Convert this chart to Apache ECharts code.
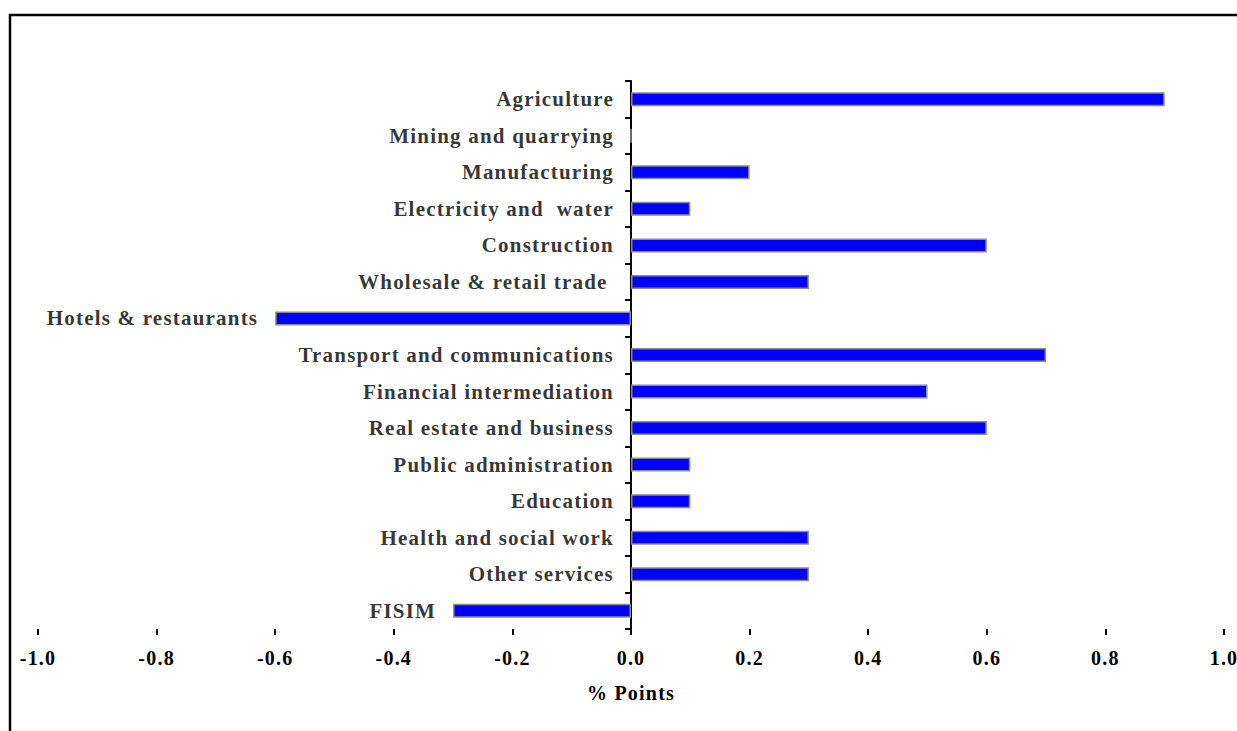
<!DOCTYPE html>
<html>
<head>
<meta charset="utf-8">
<script src="https://cdn.jsdelivr.net/npm/echarts@6/dist/echarts.min.js"></script>
<style>
  html, body { margin: 0; padding: 0; background: #fff; }
  #main { width: 1237px; height: 731px; letter-spacing: 1.2px; }
</style>
</head>
<body>
<div id="main"></div>
<script>
// sectors, top to bottom
const categories = [
  'Agriculture',
  'Mining and quarrying',
  'Manufacturing',
  'Electricity and  water',
  'Construction',
  'Wholesale & retail trade ',
  'Hotels & restaurants',
  'Transport and communications',
  'Financial intermediation',
  'Real estate and business',
  'Public administration',
  'Education',
  'Health and social work',
  'Other services',
  'FISIM'
];
// contribution, % points
const values = [0.9, 0, 0.2, 0.1, 0.6, 0.3, -0.6, 0.7, 0.5, 0.6, 0.1, 0.1, 0.3, 0.3, -0.3];

const font = 'Liberation Serif, Times New Roman, serif';

let myChart = echarts.init(document.getElementById('main'), null, { renderer: 'svg' });

// labels sit just left of the bar (or of the axis for positive bars)
const labelPoints = values.map((v, i) => [Math.min(v, 0), categories[i]]);

let option = {
  animation: false,
  backgroundColor: '#fff',
  grid: {
    left: 38,
    right: 13,
    top: 81,
    bottom: 102,
    containLabel: false,
    outerBoundsMode: 'none'
  },
  xAxis: {
    type: 'value',
    min: -1,
    max: 1,
    interval: 0.2,
    splitLine: { show: false },
    axisLine: { lineStyle: { color: '#000', width: 2 } },
    axisTick: { show: true, length: 6, lineStyle: { color: '#000', width: 2 } },
    axisLabel: {
      color: '#000',
      fontFamily: font,
      fontWeight: 'bold',
      fontSize: 20,
      margin: 19,
      formatter: v => (Math.abs(v) < 1e-9 ? '0.0' : v.toFixed(1))
    },
    name: '% Points',
    nameLocation: 'middle',
    nameGap: 54,
    nameMoveOverlap: false,
    nameTextStyle: { color: '#000', fontFamily: font, fontWeight: 'bold', fontSize: 20 }
  },
  yAxis: {
    type: 'category',
    inverse: true,
    data: categories,
    axisLine: { onZero: true, lineStyle: { color: '#000', width: 2 } },
    axisTick: { show: true, length: 6, lineStyle: { color: '#000', width: 2 } },
    axisLabel: { show: false },
    splitLine: { show: false }
  },
  series: [
    {
      type: 'bar',
      data: values,
      barWidth: 14,
      itemStyle: { color: '#0000FF', borderColor: '#8c8c8c', borderWidth: 1.5 },
      silent: true
    },
    {
      type: 'scatter',
      data: labelPoints,
      symbolSize: 0,
      silent: true,
      label: {
        show: true,
        position: 'left',
        distance: 17,
        color: '#000',
        fontFamily: font,
        fontWeight: 'bold',
        fontSize: 21,
        formatter: p => categories[p.dataIndex]
      }
    }
  ],
  graphic: [
    {
      type: 'rect',
      shape: { x: 10, y: 15, width: 1260, height: 760 },
      style: { fill: 'none', stroke: '#000', lineWidth: 2.5 },
      silent: true
    }
  ]
};

myChart.setOption(option);
</script>
</body>
</html>
